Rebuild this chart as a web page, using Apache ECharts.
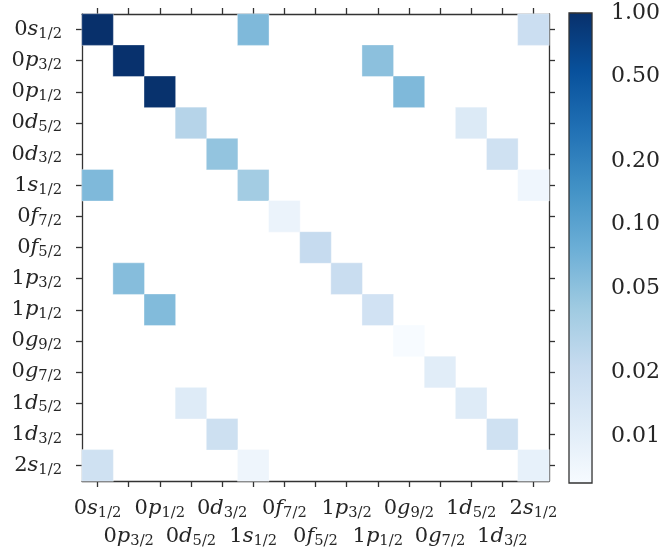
<!DOCTYPE html>
<html>
<head>
<meta charset="utf-8">
<script src="https://cdn.jsdelivr.net/npm/echarts@6/dist/echarts.min.js"></script>
<style>
  html, body { margin: 0; padding: 0; background: #fff; }
  #chart { width: 663px; height: 556px; }
</style>
</head>
<body>
<div id="chart"></div>
<script>
// Single-particle orbitals (row / column order of the matrix)
const orbitals = ['0s1/2', '0p3/2', '0p1/2', '0d5/2', '0d3/2', '1s1/2', '0f7/2', '0f5/2',
                  '1p3/2', '1p1/2', '0g9/2', '0g7/2', '1d5/2', '1d3/2', '2s1/2'];

// Non-zero matrix elements: [row, column, value]
const entries = [
  [0, 0, 1.00], [0, 5, 0.060], [0, 14, 0.019],
  [1, 1, 0.98], [1, 9, 0.051],
  [2, 2, 0.97], [2, 10, 0.060],
  [3, 3, 0.028], [3, 12, 0.012],
  [4, 4, 0.047], [4, 13, 0.017],
  [5, 0, 0.060], [5, 5, 0.038], [5, 14, 0.0073],
  [6, 6, 0.0081],
  [7, 7, 0.0215],
  [8, 1, 0.055], [8, 8, 0.020],
  [9, 2, 0.058], [9, 9, 0.016],
  [10, 10, 0.0060],
  [11, 11, 0.0106],
  [12, 3, 0.0114], [12, 12, 0.0115],
  [13, 4, 0.018], [13, 13, 0.017],
  [14, 0, 0.017], [14, 5, 0.0075], [14, 14, 0.009]
];

// Logarithmic colour scale
const colorMin = 0.006;
const colorMax = 1.0;
const colorbarTicks = [0.01, 0.02, 0.05, 0.10, 0.20, 0.50, 1.00];
const blues = ['#f7fbff', '#deebf7', '#c6dbef', '#9ecae1', '#6baed6',
               '#4292c6', '#2171b5', '#08519c', '#08306b'];

const TXT = '#262626';
const LINE = '#333333';
const FONT = 'DejaVu Serif';
const FS = 21;

const rich = {
  n: { fontFamily: FONT, fontSize: FS, lineHeight: 24, color: TXT },
  l: { fontFamily: FONT, fontStyle: 'italic', fontSize: FS, lineHeight: 24, color: TXT },
  j: { fontFamily: FONT, fontSize: 14.7, lineHeight: 8, verticalAlign: 'bottom', color: TXT }
};

function orbitalLabel(name) {
  const m = name.match(/^(\d)([a-z])(.+)$/);
  return '{n|' + m[1] + '}{l|' + m[2] + '}{j|' + m[3] + '}';
}

const heatData = entries.map(e => [e[1], e[0], Math.log10(e[2])]);

const lineStyle = { color: LINE, width: 1.3 };
const tickStyle = { show: true, inside: false, length: 6, alignWithLabel: true, interval: 0,
                    lineStyle: { color: LINE, width: 1.3 } };

const chart = echarts.init(document.getElementById('chart'), null, { renderer: 'canvas' });

chart.setOption({
  animation: false,
  backgroundColor: '#ffffff',
  grid: [
    { left: 82, top: 14, width: 467, height: 467 },
    { left: 569, top: 13, width: 24, height: 470 }
  ],
  xAxis: [
    { // bottom axis, labels on the first row
      type: 'category', gridIndex: 0, data: orbitals, position: 'bottom',
      axisLine: { show: true, onZero: false, lineStyle },
      axisTick: tickStyle,
      axisLabel: { interval: (i) => i % 2 === 0, margin: 16, formatter: orbitalLabel, rich },
      splitLine: { show: false }
    },
    { // bottom axis, labels on the second row
      type: 'category', gridIndex: 0, data: orbitals, position: 'bottom', offset: 0,
      axisLine: { show: false }, axisTick: { show: false },
      axisLabel: { interval: (i) => i % 2 === 1, margin: 44, formatter: orbitalLabel, rich },
      splitLine: { show: false }
    },
    { // top frame with ticks
      type: 'category', gridIndex: 0, data: orbitals, position: 'top',
      axisLine: { show: true, onZero: false, lineStyle },
      axisTick: tickStyle,
      axisLabel: { show: false }, splitLine: { show: false }
    },
    { // colour bar horizontal extent
      type: 'value', gridIndex: 1, min: 0, max: 1, show: false
    }
  ],
  yAxis: [
    {
      type: 'category', gridIndex: 0, data: orbitals, inverse: true, position: 'left',
      axisLine: { show: true, onZero: false, lineStyle },
      axisTick: tickStyle,
      axisLabel: { margin: 20, formatter: orbitalLabel, rich },
      splitLine: { show: false }
    },
    {
      type: 'category', gridIndex: 0, data: orbitals, inverse: true, position: 'right',
      axisLine: { show: true, onZero: false, lineStyle },
      axisTick: tickStyle,
      axisLabel: { show: false }, splitLine: { show: false }
    },
    { // colour bar scale
      type: 'log', gridIndex: 1, min: colorMin, max: colorMax, position: 'right',
      axisLine: { show: false },
      axisTick: { show: true, length: 7, customValues: colorbarTicks,
                  lineStyle: { color: LINE, width: 1.3 } },
      axisLabel: { margin: 19, customValues: colorbarTicks, color: TXT,
                   fontFamily: FONT, fontSize: FS + 1, formatter: (v) => Number(v).toFixed(2) },
      splitLine: { show: false }
    }
  ],
  visualMap: {
    show: false, type: 'continuous', seriesIndex: 0, dimension: 2,
    min: Math.log10(colorMin), max: Math.log10(colorMax),
    inRange: { color: blues }
  },
  series: [
    {
      type: 'heatmap', xAxisIndex: 0, yAxisIndex: 0, data: heatData,
      itemStyle: { borderColor: 'rgba(255,255,255,0.6)', borderWidth: 0.6 },
      emphasis: { disabled: true }, silent: true
    },
    {
      type: 'custom', xAxisIndex: 3, yAxisIndex: 2, coordinateSystem: 'cartesian2d',
      data: [[0, colorMax, colorMin]], silent: true,
      renderItem: function (params, api) {
        const top = api.coord([0, api.value(1)]);
        const bottom = api.coord([1, api.value(2)]);
        const stops = blues.map((c, i) => ({ offset: i / (blues.length - 1), color: c }));
        return {
          type: 'rect',
          shape: { x: top[0], y: top[1], width: bottom[0] - top[0], height: bottom[1] - top[1] },
          style: { fill: new echarts.graphic.LinearGradient(0, 1, 0, 0, stops),
                   stroke: LINE, lineWidth: 1.3 }
        };
      }
    }
  ]
});
</script>
</body>
</html>
